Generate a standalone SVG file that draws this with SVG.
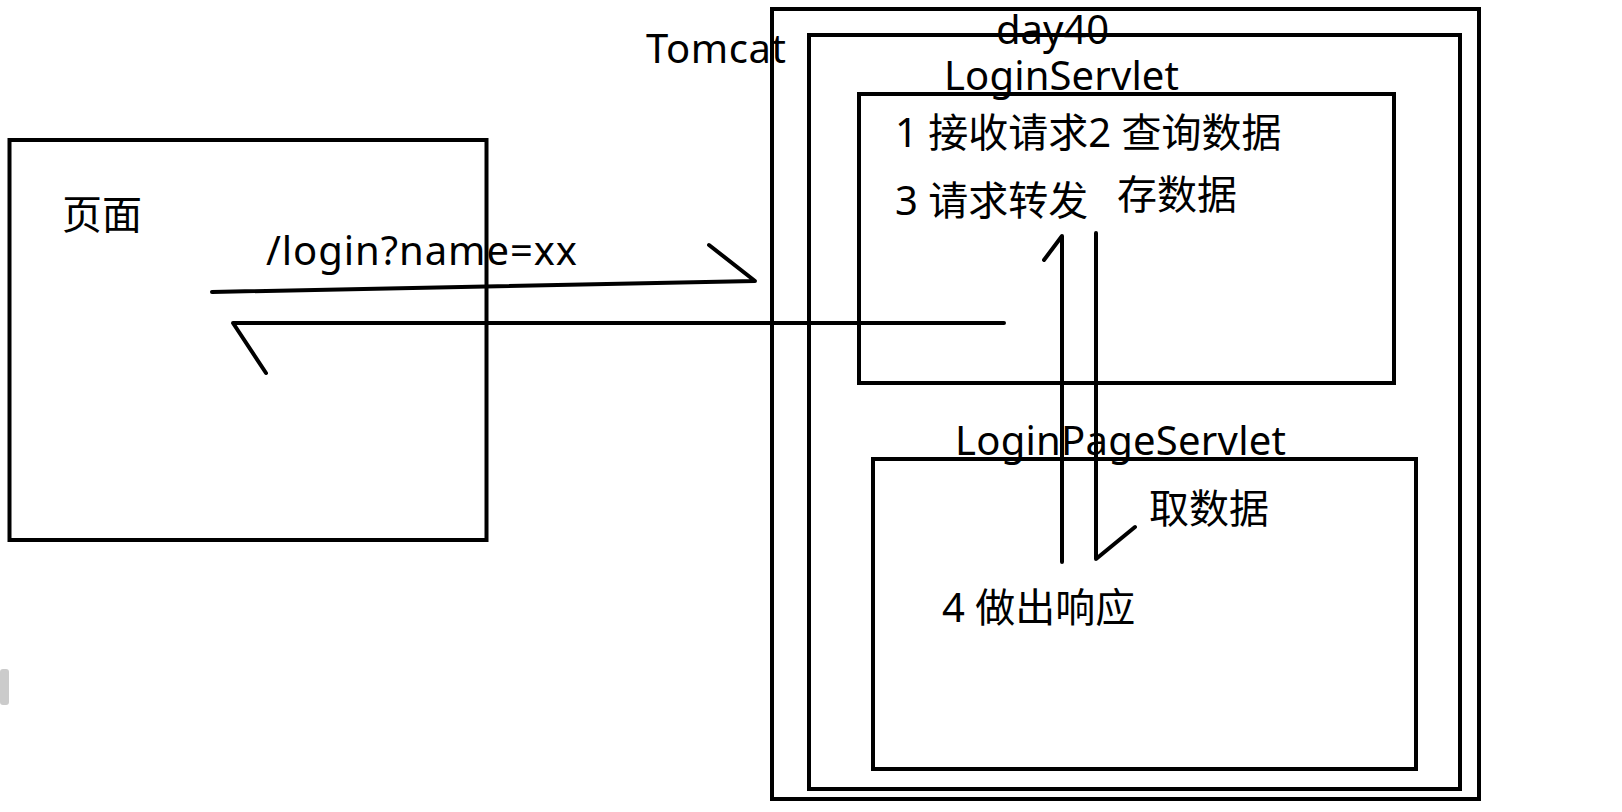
<svg xmlns="http://www.w3.org/2000/svg" width="1622" height="812" viewBox="0 0 1622 812">
<style>
.box{fill:none;stroke:#000;stroke-width:4}
.ln{fill:none;stroke:#000;stroke-width:4;stroke-linecap:round;stroke-linejoin:round}
.t{font-family:"Noto Sans","Noto Sans CJK SC",sans-serif;font-size:40px;fill:#000}
</style>
<rect width="1622" height="812" fill="#fff"/>
<rect x="0" y="669" width="9" height="36" rx="3" fill="#cbcbcb"/>
<g id="page">
<rect class="box" x="9.5" y="140" width="477" height="400"/>
<text class="t" x="62" y="229">页面</text>
</g>
<g id="tomcat">
<rect class="box" x="772" y="9" width="707" height="790"/>
<text class="t" x="646" y="63" textLength="140">Tomcat</text>
</g>
<g id="day40">
<rect class="box" x="809" y="35" width="651" height="754"/>
<text class="t" x="996" y="44">day40</text>
</g>
<g id="loginServlet">
<rect class="box" x="859" y="94" width="535" height="289"/>
<text class="t" x="944" y="90" textLength="235">LoginServlet</text>
<text class="t" x="895" y="147">1 接收请求2 查询数据</text>
<text class="t" x="895" y="215">3 请求转发</text>
<text class="t" x="1117" y="209">存数据</text>
</g>
<g id="loginPageServlet">
<rect class="box" x="873" y="459" width="543" height="310"/>
<text class="t" x="955" y="455" textLength="331">LoginPageServlet</text>
<text class="t" x="1149" y="523">取数据</text>
<text class="t" x="942" y="622">4 做出响应</text>
</g>
<g id="connectors">
<text class="t" x="266" y="265" textLength="311">/login?name=xx</text>
<polyline class="ln" points="212,292 755,281 709,245"/>
<polyline class="ln" points="1004,323 233,323 266,373"/>
<polyline class="ln" points="1062,562 1062,236 1044,260"/>
<polyline class="ln" points="1096,233 1096,559 1135,527"/>
</g>
</svg>
